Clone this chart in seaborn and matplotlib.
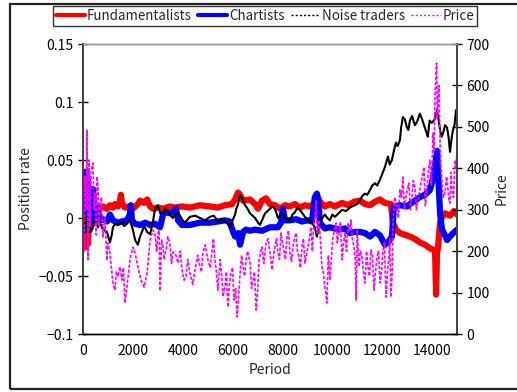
import matplotlib
matplotlib.use("Agg")
import matplotlib.pyplot as plt
from matplotlib.ticker import MultipleLocator, FuncFormatter
from matplotlib.lines import Line2D
from matplotlib.patches import Rectangle
import seaborn as sns
import pandas as pd

# ---------------- data ----------------
fund_t = [0, 40, 80, 120, 160, 200, 240, 280, 320, 400, 480, 560, 680, 800, 960, 1080, 1200, 1280,
          1400, 1480, 1520, 1560, 1680, 1880, 2000, 2200, 2290, 2450, 2570, 2690, 2810, 3010, 3210,
          3490, 3690, 3970, 4290, 4690, 5090, 5410, 5690, 5970, 6100, 6220, 6300, 6420, 6700, 6900,
          7020, 7180, 7340, 7500, 7700, 7900, 8100, 8300, 8500, 8700, 8900, 9100, 9300, 9420, 9500,
          9700, 9900, 10100, 10390, 10630, 10870, 11110, 11310, 11510, 11710, 11910, 12110, 12350,
          12430, 12550, 12710, 12990, 13110, 13310, 13510, 13710, 13910, 14120, 14160, 14200, 14240,
          14320, 14400, 14520, 14720, 14880, 15000]
fund_v = [0.0, -0.015, 0.005, -0.025, 0.0, -0.022, 0.004, -0.01, 0.002, -0.005, 0.006, 0.004, 0.009,
          0.010, 0.008, 0.011, 0.009, 0.012, 0.010, 0.014, 0.020, 0.013, 0.009, 0.010, 0.008, 0.012,
          0.015, 0.013, 0.016, 0.010, 0.008, 0.009, 0.008, 0.010, 0.009, 0.010, 0.009, 0.011, 0.010,
          0.009, 0.011, 0.012, 0.016, 0.022, 0.020, 0.015, 0.016, 0.012, 0.008, 0.015, 0.017, 0.012,
          0.011, 0.008, 0.011, 0.010, 0.012, 0.009, 0.011, 0.010, 0.013, 0.018, 0.014, 0.010, 0.012,
          0.010, 0.013, 0.011, 0.014, 0.015, 0.012, 0.011, 0.014, 0.016, 0.013, 0.012, -0.004, -0.010,
          -0.013, -0.015, -0.016, -0.018, -0.021, -0.023, -0.026, -0.028, -0.066, -0.030, -0.025,
          -0.004, 0.001, 0.004, 0.002, 0.006, 0.003]

chart_t = [0, 40, 80, 120, 160, 200, 240, 280, 320, 400, 480, 560, 680, 800, 960, 1080, 1200, 1400,
           1560, 1760, 1880, 1920, 1960, 2090, 2290, 2490, 2690, 2890, 3090, 3210, 3330, 3490, 3690,
           3730, 3810, 3970, 4290, 4690, 5090, 5410, 5690, 5890, 5970, 6100, 6220, 6300, 6420, 6540,
           6700, 6900, 7180, 7500, 7820, 7940, 8020, 8100, 8300, 8540, 8780, 9020, 9180, 9300, 9380,
           9460, 9500, 9700, 9900, 10270, 10510, 10710, 10910, 11110, 11310, 11510, 11710, 11910,
           12110, 12270, 12390, 12470, 12710, 12990, 13310, 13510, 13710, 13910, 13990, 14120, 14200,
           14240, 14320, 14400, 14520, 14600, 14800, 15000]
chart_v = [0.0, 0.03, -0.01, 0.04, -0.005, 0.035, -0.01, 0.02, -0.008, 0.025, -0.002, 0.01, -0.002,
           -0.001, -0.003, 0.003, -0.002, -0.004, -0.003, -0.002, 0.003, 0.011, -0.002, -0.005,
           -0.006, -0.004, -0.006, -0.005, -0.008, 0.003, 0.005, 0.004, 0.006, 0.008, -0.002, -0.006,
           -0.006, -0.004, -0.004, -0.003, -0.002, -0.003, -0.009, -0.016, -0.013, -0.023, -0.012,
           -0.010, -0.011, -0.010, -0.011, -0.008, -0.008, -0.004, 0.008, -0.002, -0.002, -0.001,
           -0.003, -0.002, -0.003, 0.018, 0.021, 0.010, -0.004, -0.009, -0.008, -0.010, -0.009,
           -0.013, -0.012, -0.012, -0.013, -0.016, -0.012, -0.015, -0.023, -0.020, -0.016, 0.010,
           0.011, 0.010, 0.015, 0.018, 0.020, 0.024, 0.030, 0.045, 0.058, 0.040, 0.004, -0.010,
           -0.015, -0.019, -0.014, -0.010]

noise_t = [0, 40, 80, 120, 160, 200, 280, 400, 480, 680, 800, 960, 1080, 1200, 1400, 1560, 1760, 1880,
           2000, 2090, 2200, 2290, 2450, 2570, 2690, 2890, 3010, 3210, 3490, 3690, 3890, 4090, 4290,
           4690, 5090, 5410, 5690, 5890, 6100, 6220, 6300, 6420, 6500, 6700, 6900, 7020, 7180, 7300,
           7500, 7700, 7820, 8020, 8300, 8500, 8700, 8900, 9180, 9380, 9500, 9700, 9900, 10100,
           10390, 10710, 10910, 11110, 11310, 11510, 11710, 11910, 12110, 12230, 12390, 12550, 12710,
           12830, 12990, 13110, 13310, 13510, 13710, 13830, 13990, 14200, 14320, 14440, 14600, 14720,
           14840, 14960, 15000]
noise_v = [0.0, -0.008, 0.004, -0.012, 0.002, -0.010, -0.005, -0.004, -0.001, -0.004, -0.010, -0.012,
           -0.021, -0.008, -0.006, -0.004, -0.005, -0.002, -0.010, -0.019, -0.023, -0.016, -0.007,
           -0.012, -0.014, 0.008, 0.011, 0.005, 0.003, 0.003, 0.002, -0.004, 0.001, 0.0, 0.001,
           -0.003, -0.003, -0.008, 0.003, 0.012, 0.020, 0.015, 0.011, 0.004, 0.0, -0.004, -0.002,
           0.004, 0.008, 0.008, 0.0, 0.003, -0.002, 0.005, 0.007, 0.001, -0.004, -0.016, -0.002,
           0.003, -0.002, 0.001, 0.007, 0.009, 0.011, 0.015, 0.021, 0.024, 0.030, 0.033, 0.044,
           0.053, 0.050, 0.065, 0.067, 0.087, 0.078, 0.084, 0.080, 0.090, 0.078, 0.070, 0.082,
           0.093, 0.076, 0.073, 0.078, 0.057, 0.076, 0.093, 0.085]
# further wiggles of the noise-trader line read between the points above
noise_t_extra = [300, 600, 1150, 1300, 1650, 2400, 2800, 3100, 3300, 3600, 3800, 4000, 4500, 4900,
                 5250, 5550, 5800, 6000, 6150, 6260, 6600, 6800, 7100, 7400, 7600, 7900, 8150, 8400,
                 8600, 8800, 9050, 9300, 9450, 9600, 9800, 10000, 10250, 10550, 10800, 11000, 11200,
                 11400, 11600, 11800, 12000, 12300, 12470, 12620, 12760, 12910, 13050, 13200, 13400,
                 13600, 13770, 13900, 14100, 14260, 14380, 14520, 14660, 14780, 14900]
noise_v_extra = [-0.012, -0.008, -0.015, -0.005, -0.007, -0.010, -0.004, 0.004, 0.008, 0.0, 0.004,
                 -0.002, 0.002, -0.002, 0.002, -0.001, -0.005, -0.002, 0.008, 0.016, 0.008, 0.002,
                 -0.006, 0.006, 0.010, 0.002, 0.0, 0.003, 0.009, 0.004, -0.002, -0.008, -0.010, 0.0,
                 0.0, 0.003, 0.004, 0.006, 0.010, 0.012, 0.019, 0.020, 0.028, 0.028, 0.038, 0.046,
                 0.058, 0.062, 0.078, 0.085, 0.076, 0.088, 0.083, 0.085, 0.074, 0.084, 0.085, 0.085,
                 0.070, 0.080, 0.070, 0.068, 0.080]

price_t = [0, 40, 80, 120, 160, 200, 240, 280, 320, 400, 440, 480, 560, 680, 740, 800, 880, 960, 1000,
           1080, 1200, 1280, 1340, 1400, 1480, 1560, 1620, 1680, 1760, 1880, 2000, 2090, 2200, 2330,
           2450, 2570, 2690, 2810, 2890, 2950, 3010, 3090, 3150, 3210, 3330, 3490, 3610, 3730, 3810,
           3970, 4130, 4290, 4490, 4690, 4810, 5010, 5170, 5290, 5410, 5570, 5690, 5810, 5930, 6050,
           6180, 6300, 6420, 6540, 6700, 6820, 6940, 7060, 7180, 7340, 7500, 7580, 7700, 7820, 7940,
           8060, 8180, 8300, 8420, 8540, 8660, 8780, 8900, 9020, 9140, 9260, 9340, 9460, 9580, 9700,
           9780, 9900, 10020, 10150, 10270, 10390, 10510, 10630, 10750, 10870, 10950, 11070, 11190,
           11310, 11430, 11550, 11670, 11790, 11910, 12030, 12150, 12270, 12350, 12430, 12590, 12710,
           12830, 12950, 13070, 13190, 13310, 13430, 13550, 13670, 13790, 13910, 14040, 14120, 14180,
           14240, 14320, 14400, 14520, 14640, 14720, 14800, 14920, 15000]
price_v = [250, 200, 380, 300, 492, 180, 420, 260, 390, 413, 300, 340, 380, 306, 330, 234, 280, 178,
           220, 195, 123, 106, 150, 138, 162, 130, 160, 75, 113, 178, 210, 195, 162, 130, 113, 147,
           227, 251, 239, 200, 244, 104, 227, 210, 203, 215, 198, 190, 171, 155, 138, 147, 155, 162,
           196, 178, 198, 178, 106, 138, 113, 65, 147, 82, 41, 147, 162, 178, 171, 130, 58, 178, 210,
           220, 196, 155, 210, 196, 244, 203, 234, 196, 210, 244, 186, 210, 171, 210, 258, 275, 323,
           275, 162, 113, 75, 130, 234, 268, 251, 179, 244, 268, 275, 210, 82, 162, 186, 123, 162,
           203, 106, 186, 123, 203, 89, 186, 89, 268, 306, 348, 379, 330, 364, 330, 355, 323, 364,
           403, 348, 420, 485, 581, 654, 565, 461, 364, 340, 348, 316, 348, 420, 444]
# further price flickers read between the points above
price_t_extra = [520, 600, 640, 3050, 3250, 3400, 3550, 3900, 4050, 4200, 4400, 4600, 4750, 4900,
                 5100, 5230, 5350, 5500, 5620, 5750, 5870, 6000, 6120, 6240, 6360, 6480, 6600, 6760,
                 6880, 7000, 7120, 7250, 7420, 7640, 7760, 7880, 8000, 8120, 8240, 8360, 8480, 8600,
                 8720, 8840, 8960, 9080, 9200, 9300, 9400, 9520, 9640, 9740, 9840, 9960, 10080,
                 10200, 10330, 10450, 10570, 10690, 10800, 10920, 11000, 11130, 11250, 11370, 11490,
                 11610, 11730, 11850, 11970, 12090, 12210, 12300, 12400, 12500, 12650, 12770, 12890,
                 13010, 13130, 13250, 13370, 13490, 13610, 13730, 13850, 13970, 14080, 14150, 14210,
                 14280, 14360, 14450, 14580, 14680, 14760, 14860, 14960]
price_v_extra = [240, 360, 260, 250, 180, 235, 170, 200, 130, 180, 120, 190, 150, 215, 160, 230,
                 150, 180, 90, 150, 120, 160, 110, 90, 190, 140, 200, 110, 150, 100, 200, 170, 230,
                 190, 230, 180, 220, 180, 250, 175, 230, 200, 160, 230, 190, 230, 200, 280, 240, 230,
                 150, 100, 190, 180, 250, 220, 270, 220, 200, 250, 230, 180, 250, 200, 150, 200, 140,
                 190, 150, 200, 150, 220, 150, 230, 150, 330, 280, 330, 300, 350, 300, 370, 300, 340,
                 380, 310, 390, 360, 440, 620, 520, 600, 400, 330, 380, 320, 390, 330, 400]

series_names = ["Fundamentalists", "Chartists", "Noise traders", "Price"]
x_ticks_labels = [0, 2000, 4000, 6000, 8000, 10000, 12000, 14000]

# ---------------- plotting ----------------
sns.set_style("white")
plt.rcParams['font.family'] = ['Noto Sans CJK JP', 'DejaVu Sans']

W, H = 517, 392
fig = plt.figure(figsize=(W / 100, H / 100), dpi=100)
ax = fig.add_axes([83 / W, 1 - 334 / H, (457 - 83) / W, (334 - 44) / H])
ax2 = ax.twinx()

df_f = pd.DataFrame({"t": fund_t, "v": fund_v})
df_c = pd.DataFrame({"t": chart_t, "v": chart_v})
df_n = pd.concat([pd.DataFrame({"t": noise_t, "v": noise_v}),
                  pd.DataFrame({"t": noise_t_extra, "v": noise_v_extra})]).sort_values("t")
df_p = pd.concat([pd.DataFrame({"t": price_t, "v": price_v}),
                  pd.DataFrame({"t": price_t_extra, "v": price_v_extra})]).sort_values("t")

sns.lineplot(data=df_f, x="t", y="v", ax=ax, color="#FF0000", lw=4.5, sort=False,
             estimator=None, legend=False)
sns.lineplot(data=df_c, x="t", y="v", ax=ax, color="#0000FF", lw=4.5, sort=False,
             estimator=None, legend=False)
sns.lineplot(data=df_n, x="t", y="v", ax=ax, color="black", lw=1.5, sort=False,
             estimator=None, legend=False)
sns.lineplot(data=df_p, x="t", y="v", ax=ax2, color="#FF00FF", lw=1.2, sort=False,
             estimator=None, legend=False, linestyle=(0, (2, 1)))

ax.set_xlim(0, 15000)
ax.set_ylim(-0.1, 0.15)
ax2.set_ylim(0, 700)

ax.xaxis.set_major_locator(MultipleLocator(2000))
ax.xaxis.set_minor_locator(MultipleLocator(1000))
ax.yaxis.set_major_locator(MultipleLocator(0.05))
ax2.yaxis.set_major_locator(MultipleLocator(100))

def yfmt(v, pos):
    if abs(v) < 1e-9:
        return "0"
    s = ("%g" % round(v, 3))
    return s.replace("-", "\u2212")

ax.yaxis.set_major_formatter(FuncFormatter(yfmt))

for a in (ax, ax2):
    a.tick_params(direction="inout", length=7, width=1, labelsize=10, colors="black")
    a.tick_params(which="minor", direction="inout", length=7, width=1)
ax.tick_params(axis="x", which="both", top=False)
ax.tick_params(axis="y", right=False)
ax2.tick_params(axis="y", left=False, right=True)

ax.set_xlabel("Period", fontsize=10, labelpad=4)
ax.set_ylabel("Position rate", fontsize=10, labelpad=4)
ax2.set_ylabel("Price", fontsize=10, labelpad=3)
ax.set_xticks(x_ticks_labels)

for a in (ax, ax2):
    for side in ("left", "right", "bottom"):
        a.spines[side].set_color("#444444")
        a.spines[side].set_linewidth(1.4)
    a.spines["top"].set_color("#999999")
    a.spines["top"].set_linewidth(1.0)
    a.spines["bottom"].set_color("black")
    a.spines["bottom"].set_linewidth(1.0)

handles = [
    Line2D([], [], color="#FF0000", lw=3),
    Line2D([], [], color="#0000FF", lw=3),
    Line2D([], [], color="black", lw=1, linestyle=(0, (1.5, 1.5))),
    Line2D([], [], color="#FF00FF", lw=1, linestyle=(0, (1.5, 1.5))),
]
leg = fig.legend(handles, series_names, loc="center", bbox_to_anchor=(265 / W, 1 - 16 / H),
                 ncol=4, frameon=True, fancybox=False, shadow=False, fontsize=9.6,
                 handlelength=2.2, handletextpad=0.15, columnspacing=0.45, borderpad=0.2,
                 borderaxespad=0)
leg.get_frame().set_edgecolor("black")
leg.get_frame().set_linewidth(1.0)

# outer frame of the chart
fig.patches.append(Rectangle((10 / W, 1 - 389 / H), (W + 5 - 10) / W, (389 - 4) / H,
                             transform=fig.transFigure, fill=False, edgecolor="#222222",
                             lw=1.6))

fig.savefig("out.png", dpi=100)
